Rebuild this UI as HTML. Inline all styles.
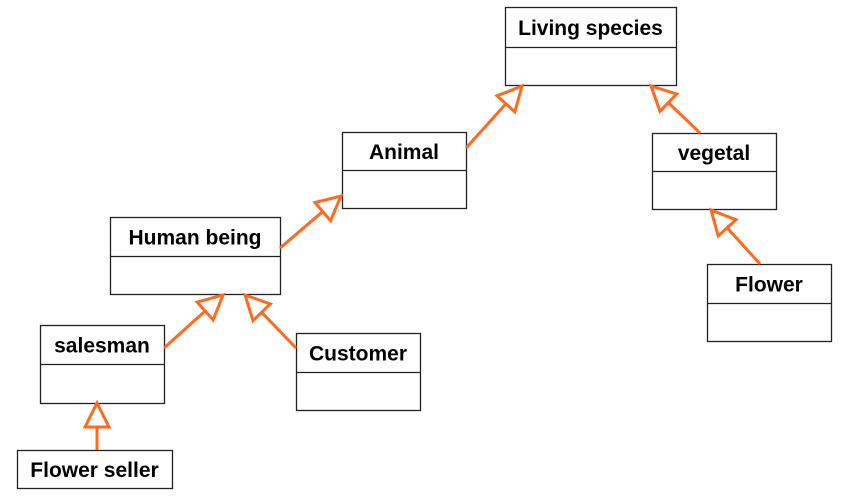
<!DOCTYPE html>
<html><head><meta charset="utf-8"><style>
html,body{margin:0;padding:0;background:#fff;}
svg{display:block;}
text{font-family:"Liberation Sans",sans-serif;font-weight:bold;font-size:21px;fill:#000;}
</style></head><body>
<svg id="d" width="848" height="497" viewBox="0 0 848 497">
<g id="boxes"></g><g id="arrows"></g>
</svg>
<script>
const NS='http://www.w3.org/2000/svg';
const names=['Living species','Animal','vegetal','Human being','salesman','Customer','Flower','Flower seller'];
const bx=[505,342,652,110,40,296,707,17];
const by=[7,132,133,217,325,333,264,450];
const bw=[171,124,124,170,124,124,124,155];
const bh=[78,76,76,77,78,77,77,38];
const dv=[40,38,38,39,39,39,39,0];
const arrowsFrom=[[466,148],[700,133],[280,248],[164,348],[296,348],[97,450],[760,264]];
const arrowsTo=[[522,86],[651,86],[341,196],[223,295],[245,295],[97,403],[711,210]];
const boxes=document.getElementById('boxes'),arrows=document.getElementById('arrows');
function mk(t,a,p){const e=document.createElementNS(NS,t);for(const k in a)e.setAttribute(k,a[k]);p.appendChild(e);return e;}
names.forEach((n,i)=>{
  const g=mk('g',{},boxes);
  
  
  mk('rect',{x:bx[i]+0.5,y:by[i]+0.5,width:bw[i],height:bh[i],fill:'#fff',stroke:'#222','stroke-width':1.3},g);
  if(dv[i])mk('line',{x1:bx[i],x2:bx[i]+bw[i],y1:by[i]+dv[i]+0.5,y2:by[i]+dv[i]+0.5,stroke:'#222','stroke-width':1.3},g);
  const t=mk('text',{x:bx[i]+bw[i]/2,y:by[i]+(dv[i]||bh[i])/2+8,'text-anchor':'middle'},g);
  t.textContent=n;
});
arrowsFrom.forEach((f,i)=>{
  const to=arrowsTo[i];
  const dx=to[0]-f[0],dy=to[1]-f[1],L=Math.hypot(dx,dy),ux=dx/L,uy=dy/L;
  const bxp=to[0]-ux*24,byp=to[1]-uy*24,px=-uy*12,py=ux*12;
  const g=mk('g',{},arrows);
  
  
  mk('line',{x1:f[0],y1:f[1],x2:bxp,y2:byp,stroke:'#ff6a1f','stroke-width':3},g);
  mk('polygon',{points:`${to[0]},${to[1]} ${bxp+px},${byp+py} ${bxp-px},${byp-py}`,fill:'#fff',stroke:'#ff6a1f','stroke-width':3,'stroke-linejoin':'miter'},g);
});
</script>
</body></html>
